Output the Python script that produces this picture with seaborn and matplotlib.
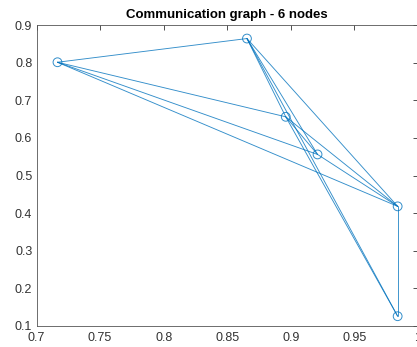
import matplotlib
matplotlib.use("Agg")
import matplotlib.pyplot as plt
import seaborn as sns
import pandas as pd

# Node coordinates
node_names = ["A", "B", "C", "D", "E", "F"]
node_x = [0.7165, 0.8655, 0.896, 0.921, 0.984, 0.984]
node_y = [0.801, 0.864, 0.656, 0.556, 0.418, 0.126]

# Edges (pairs of node indices)
edge_from = [0, 0, 0, 0, 1, 1, 1, 1, 2, 2, 2, 3, 4]
edge_to   = [1, 2, 3, 4, 2, 3, 4, 5, 3, 4, 5, 4, 5]

title = "Communication graph - 6 nodes"
x_ticks = [0.7, 0.75, 0.8, 0.85, 0.9, 0.95, 1.0]
x_labels = ["0.7", "0.75", "0.8", "0.85", "0.9", "0.95", "1"]
y_ticks = [0.1, 0.2, 0.3, 0.4, 0.5, 0.6, 0.7, 0.8, 0.9]
y_labels = ["0.1", "0.2", "0.3", "0.4", "0.5", "0.6", "0.7", "0.8", "0.9"]

sns.set_style("white")
plt.rcParams["font.family"] = ["Liberation Sans", "DejaVu Sans"]

rows = []
for k, (i, j) in enumerate(zip(edge_from, edge_to)):
    rows.append({"edge": k, "order": 0, "x": node_x[i], "y": node_y[i]})
    rows.append({"edge": k, "order": 1, "x": node_x[j], "y": node_y[j]})
edges_df = pd.DataFrame(rows)
nodes_df = pd.DataFrame({"name": node_names, "x": node_x, "y": node_y})

color = "#0072BD"
gray = "#333333"

fig = plt.figure(figsize=(4.17, 3.47), dpi=100)
ax = fig.add_axes([36.5 / 417, 21 / 347, 381.5 / 417, 301 / 347])

sns.lineplot(data=edges_df, x="x", y="y", units="edge", estimator=None,
             sort=False, color=color, linewidth=0.65, alpha=0.8, ax=ax)
sns.scatterplot(data=nodes_df, x="x", y="y", marker="o", s=40,
                facecolor="none", edgecolor=color, linewidth=0.7,
                alpha=0.8, ax=ax, zorder=3)

ax.set_xlim(0.7, 1.0)
ax.set_ylim(0.1, 0.9)
ax.set_xticks(x_ticks)
ax.set_xticklabels(x_labels)
ax.set_yticks(y_ticks)
ax.set_yticklabels(y_labels)
ax.set_xlabel("")
ax.set_ylabel("")
ax.tick_params(axis="both", direction="in", length=3.5, width=0.6,
               colors=gray, labelsize=9, top=True, right=True,
               labelcolor=gray)
ax.tick_params(axis="x", pad=4)
ax.tick_params(axis="y", pad=3)
for s in ax.spines.values():
    s.set_visible(True)
    s.set_color("#555555")
    s.set_linewidth(0.6)
ax.set_title(title, fontsize=9.5, fontweight="bold", color="black", pad=5)

fig.savefig("out.png", dpi=100)
